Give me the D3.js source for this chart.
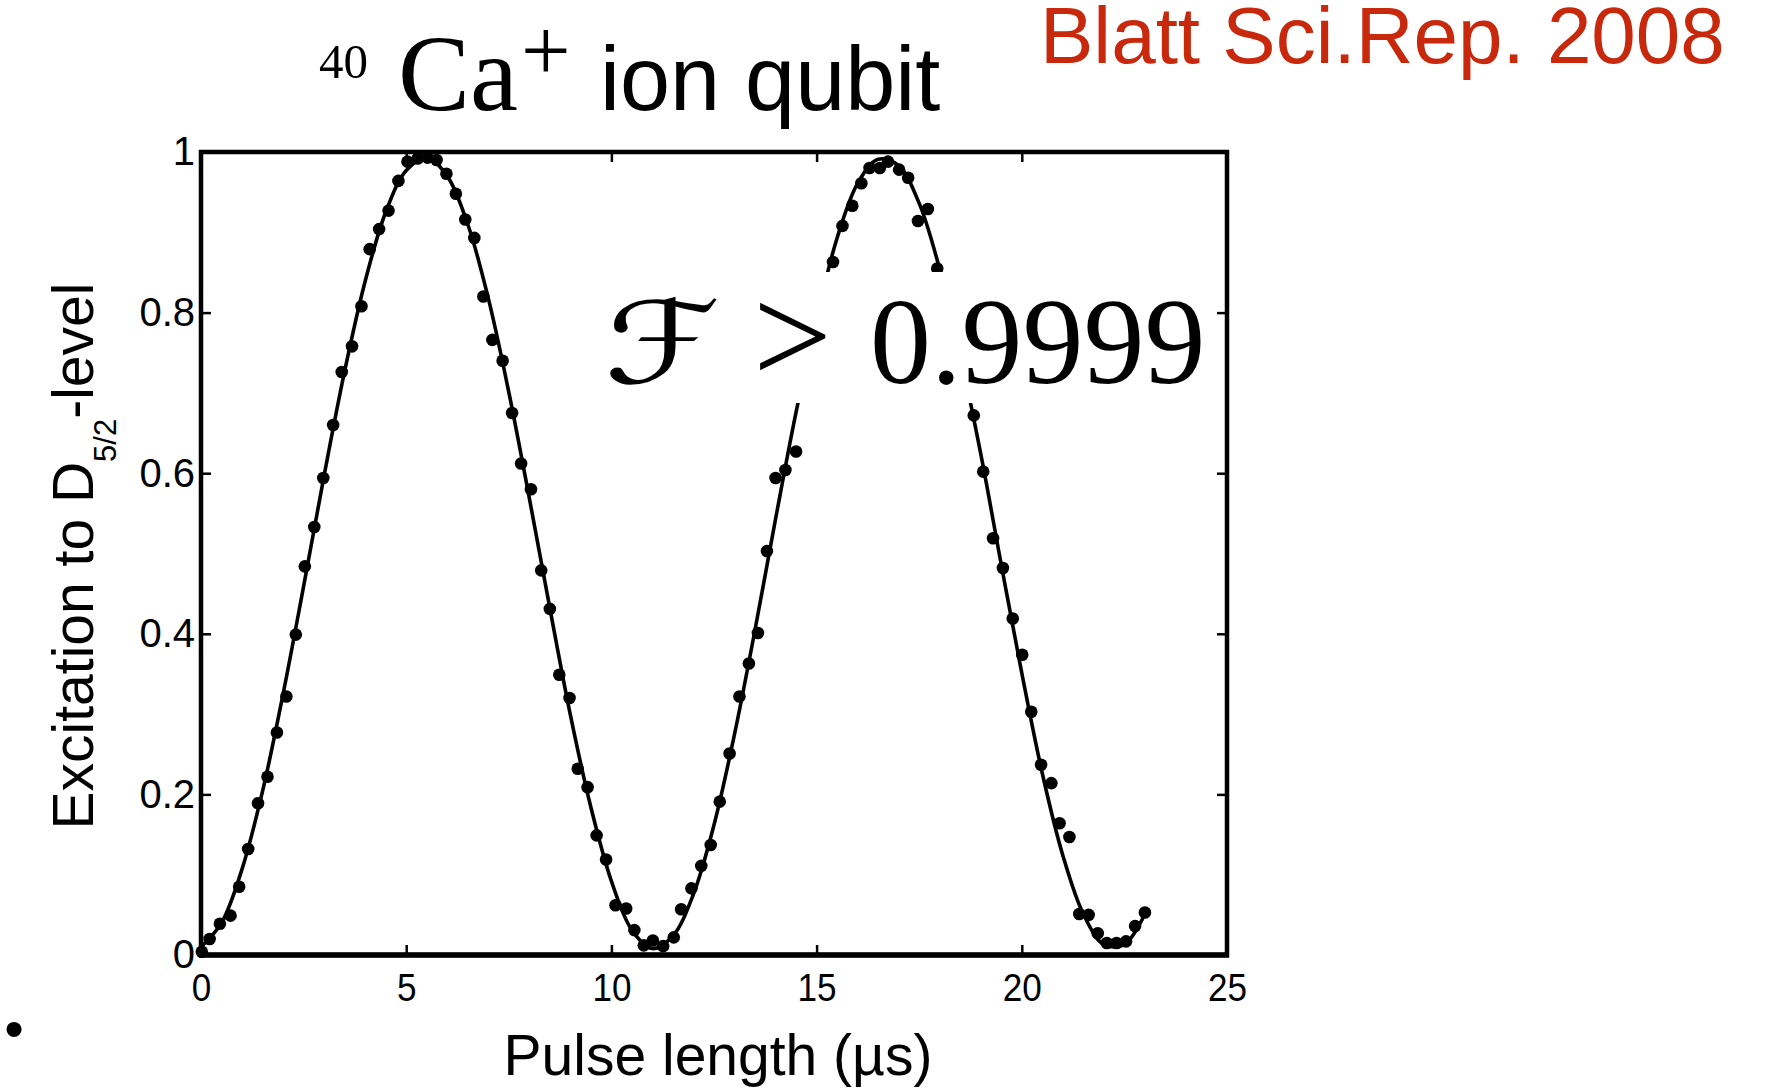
<!DOCTYPE html>
<html>
<head>
<meta charset="utf-8">
<script src="https://cdn.jsdelivr.net/npm/d3@7"></script>
<style>
  html, body { margin: 0; padding: 0; background: #ffffff; }
  svg { display: block; }
</style>
</head>
<body>
<script>
// Measured excitation probability vs. pulse length (µs)
const pulseTimes = [
  0.02, 0.21, 0.46, 0.72, 0.93, 1.15, 1.39, 1.62, 1.85, 2.08, 2.31, 2.53, 2.76,
  2.98, 3.22, 3.43, 3.68, 3.91, 4.11, 4.34, 4.57, 4.81, 5.03, 5.28, 5.52, 5.74,
  5.98, 6.21, 6.44, 6.66, 6.88, 7.10, 7.35, 7.58, 7.80, 8.04,
  8.29, 8.50, 8.73, 8.98, 9.18, 9.42, 9.64, 9.87, 10.10, 10.36, 10.56, 10.79,
  11.01, 11.26, 11.52, 11.70,
  11.95, 12.19, 12.42, 12.64, 12.88, 13.12, 13.35, 13.57, 13.79,
  14.00, 14.24, 14.50,
  15.40, 15.63, 15.87, 16.09, 16.29, 16.54, 16.74, 17.01, 17.23, 17.47, 17.71, 17.94,
  18.83, 19.06, 19.30, 19.54, 19.78, 20.01, 20.23, 20.47, 20.72, 20.92, 21.16,
  21.40, 21.63, 21.85, 22.07, 22.31, 22.54, 22.76, 23.00
];
const excitation = [
  0.004, 0.020, 0.039, 0.049, 0.085, 0.132, 0.189, 0.222, 0.277, 0.322, 0.399, 0.484, 0.533,
  0.594, 0.660, 0.726, 0.758, 0.808, 0.879, 0.904, 0.927, 0.964, 0.988, 0.992, 0.993, 0.990,
  0.973, 0.948, 0.916, 0.893, 0.820, 0.766, 0.740, 0.675, 0.612, 0.580,
  0.479, 0.431, 0.349, 0.320, 0.232, 0.209, 0.149, 0.119, 0.062, 0.058, 0.031, 0.012,
  0.018, 0.011, 0.022, 0.057,
  0.083, 0.111, 0.137, 0.191, 0.251, 0.322, 0.363, 0.401, 0.503,
  0.594, 0.604, 0.627,
  0.863, 0.908, 0.933, 0.961, 0.980, 0.980, 0.988, 0.978, 0.968, 0.914, 0.929, 0.855,
  0.672, 0.602, 0.519, 0.482, 0.419, 0.374, 0.303, 0.237, 0.214, 0.164, 0.147,
  0.051, 0.050, 0.027, 0.015, 0.015, 0.017, 0.036, 0.053
];

// Fitted Rabi oscillation curve
const fitTimes = [
  0, 0.5, 1, 1.5, 2, 2.5, 3, 3.5, 4, 4.5, 5, 5.5, 6, 6.5, 7, 7.5, 8, 8.5, 9, 9.5,
  10, 10.5, 11, 11.5, 12, 12.5, 13, 13.5, 14, 14.5, 15, 15.5, 16, 16.5, 17, 17.5,
  18, 18.5, 19, 19.5, 20, 20.5, 21, 21.5, 22, 22.5, 23
];
const fitValues = [
  0.010, 0.040, 0.107, 0.204, 0.325, 0.459, 0.597, 0.727, 0.839, 0.925, 0.977, 0.993,
  0.970, 0.910, 0.818, 0.701, 0.569, 0.432, 0.299, 0.184, 0.092, 0.031, 0.008, 0.024,
  0.076, 0.162, 0.275, 0.405, 0.543, 0.676, 0.793, 0.893, 0.961, 0.991, 0.983, 0.936,
  0.854, 0.747, 0.624, 0.486, 0.351, 0.226, 0.124, 0.051, 0.013, 0.013, 0.051
];

const xTicks = [0, 5, 10, 15, 20, 25];
const xTickLabels = ["0", "5", "10", "15", "20", "25"];
const yTicks = [0, 0.2, 0.4, 0.6, 0.8, 1];
const yTickLabels = ["0", "0.2", "0.4", "0.6", "0.8", "1"];

const W = 1777, H = 1089;
const plot = { left: 201, right: 1227, top: 152, bottom: 955 };
const sans = "'Liberation Sans', Arial, Helvetica, sans-serif";
const serif = "'Liberation Serif', 'Times New Roman', Times, serif";

const svg = d3.select("body").append("svg")
  .attr("width", W).attr("height", H)
  .attr("viewBox", `0 0 ${W} ${H}`);

const x = d3.scaleLinear().domain([0, 25]).range([plot.left, plot.right]);
const y = d3.scaleLinear().domain([0, 1]).range([plot.bottom, plot.top]);

// Fit curve
const fitPts = fitTimes.map((t, i) => [t, fitValues[i]]);
svg.append("path")
  .datum(fitPts)
  .attr("fill", "none")
  .attr("stroke", "#000")
  .attr("stroke-width", 3.6)
  .attr("d", d3.line().x(d => x(d[0])).y(d => y(d[1])).curve(d3.curveCatmullRom.alpha(0.5)));

// Data points
svg.append("g").selectAll("circle")
  .data(pulseTimes.map((t, i) => [t, excitation[i]]))
  .join("circle")
  .attr("cx", d => x(d[0]))
  .attr("cy", d => y(d[1]))
  .attr("r", 6.3)
  .attr("fill", "#000");

// Fidelity annotation on a white panel
svg.append("rect")
  .attr("x", 600).attr("y", 272)
  .attr("width", 613).attr("height", 131)
  .attr("fill", "#fff");
svg.append("text")
  .attr("transform", "translate(604,383) scale(1.3,1)")
  .attr("font-family", "'DejaVu Serif', 'DejaVu Sans', serif")
  .attr("font-style", "italic")
  .attr("font-size", 114)
  .text("\u2131");
svg.append("text")
  .attr("x", 753).attr("y", 383)
  .attr("font-family", serif)
  .attr("font-size", 140)
  .text(">");
svg.append("text")
  .attr("x", 870).attr("y", 383)
  .attr("font-family", serif)
  .attr("font-size", 122)
  .text("0.9999");

// Axes: inward ticks on all four sides
const tickLen = 10;
const gx = svg.append("g").attr("transform", `translate(0,${plot.bottom})`)
  .call(d3.axisBottom(x).tickValues(xTicks).tickSize(-tickLen).tickPadding(18)
    .tickFormat((d, i) => xTickLabels[i]));
const gxTop = svg.append("g").attr("transform", `translate(0,${plot.top})`)
  .call(d3.axisTop(x).tickValues(xTicks).tickSize(-tickLen).tickFormat(""));
const gy = svg.append("g").attr("transform", `translate(${plot.left},0)`)
  .call(d3.axisLeft(y).tickValues(yTicks).tickSize(-tickLen).tickPadding(6)
    .tickFormat((d, i) => yTickLabels[i]));
const gyRight = svg.append("g").attr("transform", `translate(${plot.right},0)`)
  .call(d3.axisRight(y).tickValues(yTicks).tickSize(-tickLen).tickFormat(""));

[gx, gxTop, gy, gyRight].forEach(g => {
  g.select(".domain").remove();
  g.selectAll(".tick line").attr("stroke", "#000").attr("stroke-width", 2.5);
  g.selectAll(".tick text")
    .attr("fill", "#000")
    .attr("font-family", sans);
});
gx.selectAll(".tick text").attr("font-size", 39)
  .attr("transform", "scale(0.9,1)");
gy.selectAll(".tick text").attr("font-size", 40);

// Plot frame
svg.append("rect")
  .attr("x", plot.left).attr("y", plot.top)
  .attr("width", plot.right - plot.left).attr("height", plot.bottom - plot.top)
  .attr("fill", "none").attr("stroke", "#000").attr("stroke-width", 4.5);
svg.append("line")
  .attr("x1", plot.left - 2).attr("x2", plot.right + 2)
  .attr("y1", plot.bottom).attr("y2", plot.bottom)
  .attr("stroke", "#000").attr("stroke-width", 5.5);

// Axis titles
svg.append("text")
  .attr("x", (x(0) + x(25)) / 2 + 4).attr("y", 1075)
  .attr("text-anchor", "middle")
  .attr("font-family", sans).attr("font-size", 57)
  .text("Pulse length (\u00b5s)");

const yl = svg.append("text")
  .attr("transform", "translate(93,556) rotate(-90)")
  .attr("text-anchor", "middle")
  .attr("font-family", sans).attr("font-size", 57);
yl.append("tspan").text("Excitation to D");
yl.append("tspan").attr("dy", 23).attr("font-size", 31).text("5/2");
yl.append("tspan").attr("dy", -23).text("-level");

// Title
svg.append("text").attr("x", 319).attr("y", 78)
  .attr("font-family", serif).attr("font-size", 49).text("40");
svg.append("text").attr("x", 398).attr("y", 110)
  .attr("font-family", serif).attr("font-size", 108).text("Ca");
svg.append("text").attr("x", 521).attr("y", 80)
  .attr("font-family", serif).attr("font-size", 88).text("+");
svg.append("text").attr("x", 600).attr("y", 110)
  .attr("font-family", sans).attr("font-size", 90).text("ion qubit");

// Reference tag
svg.append("text").attr("x", 1040).attr("y", 63)
  .attr("font-family", sans).attr("font-size", 80)
  .attr("fill", "#c8280c")
  .text("Blatt Sci.Rep. 2008");

// Stray bullet
svg.append("text").attr("x", 14).attr("y", 1048)
  .attr("text-anchor", "middle")
  .attr("font-family", sans).attr("font-size", 56)
  .text("\u2022");
</script>
</body>
</html>
